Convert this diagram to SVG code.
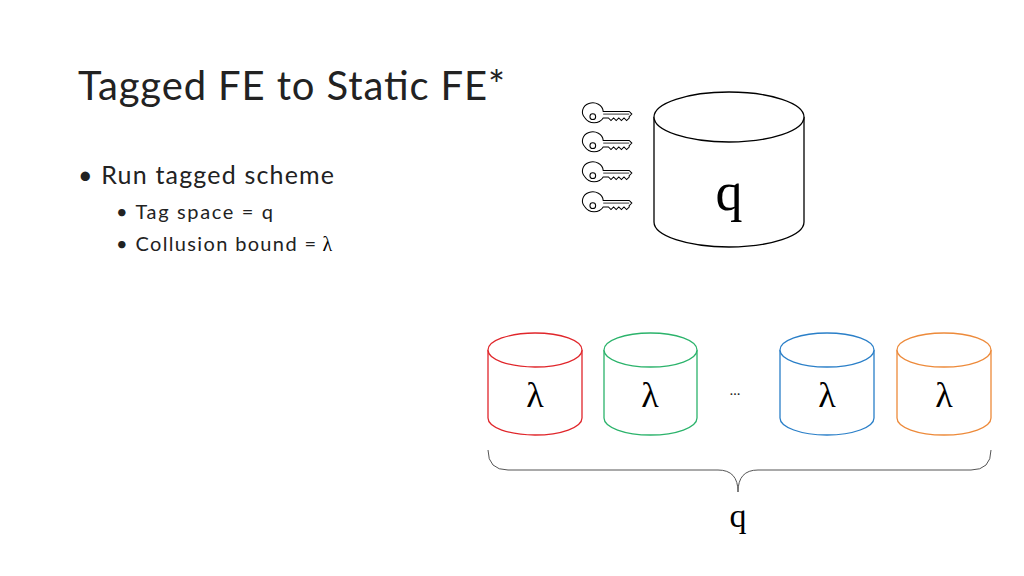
<svg xmlns="http://www.w3.org/2000/svg" width="1024" height="576" viewBox="0 0 1024 576">
<style>
.t{font-family:Lato,"Liberation Sans",sans-serif;fill:#222}
.s{font-family:"Liberation Serif",serif;fill:#000}
.cy{fill:#fff;stroke-width:1.3}
.k{fill:#fff;stroke:#000;stroke-width:0.8}
</style>
<defs>
<g id="key">
<path class="k" d="M0,0 a8,7 0 1,1 14,-5 l20,0 l2,2 l-2,2 l0,1 l-2,2 l-2,-2 l-2,2 l-2,-2 l-2,2 l-2,-2 l-2,2 l-2,-2 l-4,0 a8,7 0 0,1 -14,0z"/>
<circle cx="6" cy="-1" r="2.2" fill="none" stroke="#000" stroke-width="0.8"/>
<path d="M14,-3 l20,0" stroke="#000" fill="none" stroke-width="0.6"/>
</g>
</defs>
<rect width="1024" height="576" fill="#fff"/>
<text class="t" x="78" y="100" font-size="40" textLength="427">Tagged FE to Static FE*</text>
<text class="t" x="78" y="184" font-size="25" textLength="256">• Run tagged scheme</text>
<text class="t" x="116" y="219" font-size="20" textLength="157">• Tag space = q</text>
<text class="t" x="116" y="251" font-size="20"><tspan textLength="200">• Collusion bound =</tspan> <tspan class="s">λ</tspan></text>
<g id="keys">
<use href="#key" transform="translate(585,118) scale(1.3)"/>
<use href="#key" transform="translate(585,147) scale(1.3)"/>
<use href="#key" transform="translate(585,177) scale(1.3)"/>
<use href="#key" transform="translate(585,207) scale(1.3)"/>
</g>
<g id="bigdb">
<path class="cy" stroke="#000" d="M654,117 L654,222 A75,25 0 0,0 804,222 L804,117"/>
<ellipse class="cy" stroke="#000" cx="729" cy="117" rx="75" ry="25"/>
<text class="s" x="729" y="210" font-size="54" text-anchor="middle">q</text>
</g>
<g id="db1">
<path class="cy" stroke="#e0262b" d="M488,350 L488,418 A47,17 0 0,0 582,418 L582,350"/>
<ellipse class="cy" stroke="#e0262b" cx="535" cy="350" rx="47" ry="17"/>
<text class="s" x="535" y="407" font-size="36" text-anchor="middle">λ</text>
</g>
<g id="db2">
<path class="cy" stroke="#2bb36b" d="M604,350 L604,418 A46.5,17 0 0,0 697,418 L697,350"/>
<ellipse class="cy" stroke="#2bb36b" cx="650.5" cy="350" rx="46.5" ry="17"/>
<text class="s" x="650" y="407" font-size="36" text-anchor="middle">λ</text>
</g>
<text class="t" x="735" y="395" font-size="14" text-anchor="middle">…</text>
<g id="db3">
<path class="cy" stroke="#2a7fc8" d="M780,350 L780,418 A47,17 0 0,0 874,418 L874,350"/>
<ellipse class="cy" stroke="#2a7fc8" cx="827" cy="350" rx="47" ry="17"/>
<text class="s" x="827" y="407" font-size="36" text-anchor="middle">λ</text>
</g>
<g id="db4">
<path class="cy" stroke="#ed8a3a" d="M897,350 L897,418 A47,17 0 0,0 991,418 L991,350"/>
<ellipse class="cy" stroke="#ed8a3a" cx="944" cy="350" rx="47" ry="17"/>
<text class="s" x="944" y="407" font-size="36" text-anchor="middle">λ</text>
</g>
<g id="connectors">
<path d="M488,450 Q488,470 508,470 L718,470 Q738,470 738,492 Q738,470 758,470 L971,470 Q991,470 991,450" fill="none" stroke="#555" stroke-width="1"/>
</g>
<text class="s" x="738" y="527" font-size="34" text-anchor="middle">q</text>
</svg>
